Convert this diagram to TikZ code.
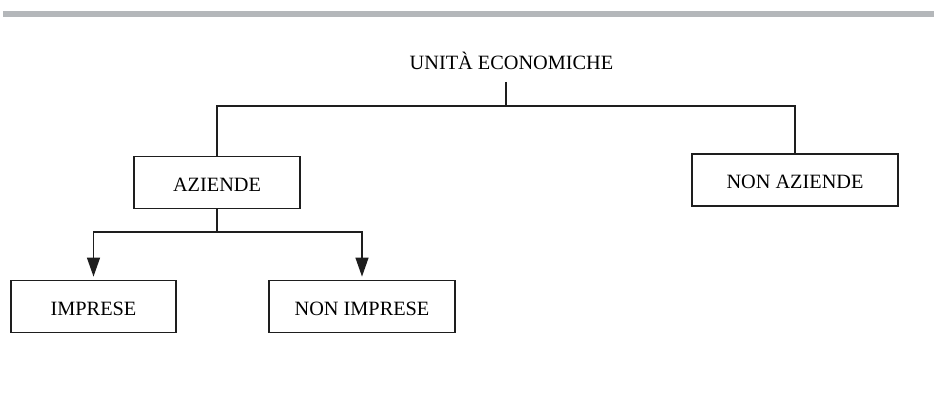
\documentclass[tikz,border=0pt]{standalone}
\usepackage{fontspec}
\setmainfont{Liberation Serif}
\usetikzlibrary{arrows.meta}
\definecolor{rulegray}{HTML}{B4B7BA}
\definecolor{ink}{HTML}{1E1E1E}
\tikzset{
  unitbox/.style={draw=ink, line width=1.3pt, rectangle, inner sep=0pt,
    text height=18pt, text depth=0pt,
    font=\fontsize{20.3}{24}\selectfont},
  link/.style={draw=ink, line width=1.3pt},
  arrowlink/.style={link, -{Triangle[length=19pt,width=13pt]}, shorten >=3.5pt},
  heading/.style={font=\fontsize{20.3}{24}\selectfont, inner sep=0pt}
}
\begin{document}
\begin{tikzpicture}[x=1pt,y=-1pt]
  \useasboundingbox (0,0) rectangle (934,419);
  % top rule
  \fill[rulegray] (3,11) rectangle (934,17);

  % root label
  \node[heading, anchor=base] (root) at (511.5,70) {UNITÀ ECONOMICHE};

  % boxes
  \node[unitbox, minimum width=166pt, minimum height=51.5pt] (aziende) at (217,182.5) {AZIENDE};
  \node[unitbox, minimum width=206pt, minimum height=52pt] (nonaziende) at (795,180) {NON AZIENDE};
  \node[unitbox, minimum width=165pt, minimum height=51.5pt] (imprese) at (93.5,306.5) {IMPRESE};
  \node[unitbox, minimum width=186pt, minimum height=51.5pt] (nonimprese) at (362,306.5) {NON IMPRESE};

  % first level
  \coordinate (stub) at (506,82);
  \coordinate (fork) at (506,106);
  \draw[link] (stub) -- (fork);
  \draw[link] (aziende.north) |- (fork) -| (nonaziende.north);

  % second level
  \coordinate (split) at (217,232);
  \draw[link] (aziende.south) -- (split);
  \draw[arrowlink] (split) -| (imprese.north);
  \draw[arrowlink] (split) -| (nonimprese.north);
\end{tikzpicture}
\end{document}
